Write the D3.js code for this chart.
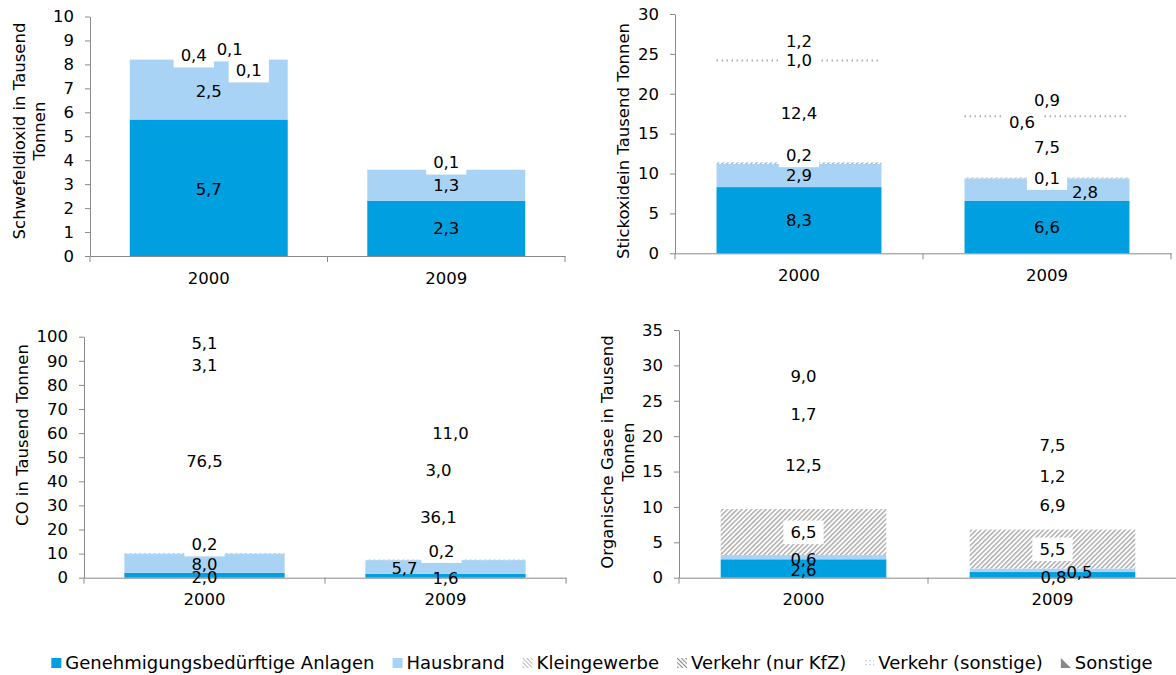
<!DOCTYPE html>
<html>
<head>
<meta charset="utf-8">
<script src="https://cdnjs.cloudflare.com/ajax/libs/d3/7.8.5/d3.min.js"></script>
<style>
    body { margin: 0; background: #fff; }
    svg text { font-family: "DejaVu Sans", Verdana, sans-serif; font-size: 16.5px; fill: #000; }
    svg .legend text { font-size: 18px; }
</style>
</head>
<body>
<svg id="chart" width="1176" height="675"></svg>
<script>
// categories and series
const years = ["2000", "2009"];
const seriesNames = ["Genehmigungsbedürftige Anlagen", "Hausbrand", "Kleingewerbe",
    "Verkehr (nur KfZ)", "Verkehr (sonstige)", "Sonstige"];

// values per year, in series order (Tausend Tonnen)
const so2Values = [[5.7, 2.5, 0.1, 0.4, 0.1, 0], [2.3, 1.3, 0.1, 0, 0, 0]];
const noxValues = [[8.3, 2.9, 0.2, 12.4, 1.0, 1.2], [6.6, 2.8, 0.1, 7.5, 0.6, 0.9]];
const coValues = [[2.0, 8.0, 0.2, 76.5, 3.1, 5.1], [1.6, 5.7, 0.2, 36.1, 3.0, 11.0]];
const vocValues = [[2.6, 0.6, 6.5, 12.5, 1.7, 9.0], [0.8, 0.5, 5.5, 6.9, 1.2, 7.5]];

// y tick labels
const so2Ticks = [0, 1, 2, 3, 4, 5, 6, 7, 8, 9, 10];
const noxTicks = [0, 5, 10, 15, 20, 25, 30];
const coTicks = [0, 10, 20, 30, 40, 50, 60, 70, 80, 90, 100];
const vocTicks = [0, 5, 10, 15, 20, 25, 30, 35];

const blue = "#009fe0";
const lightBlue = "#a9d3f5";
const axisGrey = "#8a8a8a";

let svg = d3.select("#chart");
let defs = svg.append("defs");

// diagonal hatch for Kleingewerbe
let hatch = defs.append("pattern")
    .attr("id", "hatch")
    .attr("patternUnits", "userSpaceOnUse")
    .attr("width", 3.4).attr("height", 10)
    .attr("patternTransform", "rotate(45)");
hatch.append("rect").attr("width", 3.4).attr("height", 10).attr("fill", "#fff");
hatch.append("line").attr("x1", 0.8).attr("y1", 0).attr("x2", 0.8).attr("y2", 10)
    .attr("stroke", "#9a9a9a").attr("stroke-width", 1.2);

// layout of the four panels
const panels = [
    {values: so2Values, ticks: so2Ticks, x0: 90, x1: 565, y0: 256, y1: 16.5,
        title: ["Schwefeldioxid in Tausend", "Tonnen"], tx: [19, 39], ty: 131, patterned: []},
    {values: noxValues, ticks: noxTicks, x0: 675, x1: 1171, y0: 253.3, y1: 14,
        title: ["Stickoxidein Tausend Tonnen"], tx: [623], ty: 141, patterned: [2, 4]},
    {values: coValues, ticks: coTicks, x0: 84, x1: 566, y0: 577.7, y1: 336.7,
        title: ["CO in Tausend Tonnen"], tx: [22], ty: 435, patterned: [2]},
    {values: vocValues, ticks: vocTicks, x0: 679, x1: 1177, y0: 577.7, y1: 330,
        title: ["Organische Gase in Tausend", "Tonnen"], tx: [607, 628], ty: 452, patterned: [2]}
];

// hand-moved data labels: "panel-year-series" -> [dx, dy]
const labelShift = {
    "0-0-0": [0, 1], "0-0-1": [0, 2], "0-0-2": [40, 12], "0-0-3": [-15, 3], "0-0-4": [21, 3],
    "0-1-2": [0, -6],
    "1-0-2": [0, -8], "1-0-4": [0, 1], "1-0-5": [0, -9],
    "1-1-1": [38, 3], "1-1-4": [-25, 7], "1-1-5": [0, -9],
    "2-0-0": [0, 2], "2-0-1": [0, 1], "2-0-2": [0, -9], "2-0-5": [0, -12],
    "2-1-0": [0, 2], "2-1-1": [-41, 1], "2-1-2": [-4, -9], "2-1-3": [-7, 1], "2-1-4": [-7, 1], "2-1-5": [5, -19],
    "3-0-0": [0, 2], "3-0-1": [0, 2],
    "3-1-0": [1, 2], "3-1-1": [27, 2]
};

let fmt = v => d3.format(".1f")(v).replace(".", ",");

function drawPanel(p, pi) {
    let g = svg.append("g");

    let x = d3.scaleBand()
        .domain(years)
        .range([p.x0, p.x1])
        .paddingInner(0.335)
        .paddingOuter(0.1675);
    let y = d3.scaleLinear()
        .domain([0, d3.max(p.ticks)])
        .range([p.y0, p.y1]);

    let rows = years.map(function (yr, j) {
        let o = {year: yr};
        seriesNames.forEach(function (s, k) { o[s] = p.values[j][k]; });
        return o;
    });
    let stacked = d3.stack().keys(seriesNames)(rows);

    // bars
    stacked.forEach(function (layer, k) {
        let fill = null;
        if (k === 0) fill = blue;
        else if (k === 1) fill = lightBlue;
        else if (k === 2 && p.patterned.includes(2)) fill = "url(#hatch)";
        if (fill) {
            g.selectAll(null)
                .data(layer)
                .enter()
                .append("rect")
                .attr("x", d => x(d.data.year))
                .attr("width", x.bandwidth())
                .attr("y", d => y(d[1]))
                .attr("height", d => y(d[0]) - y(d[1]))
                .attr("fill", fill);
        }
        // Verkehr (sonstige) only shows as a dotted row
        if (k === 4 && p.patterned.includes(4)) {
            g.selectAll(null)
                .data(layer)
                .enter()
                .append("line")
                .attr("x1", d => x(d.data.year))
                .attr("x2", d => x(d.data.year) + x.bandwidth())
                .attr("y1", d => y((d[0] + d[1]) / 2) + 1)
                .attr("y2", d => y((d[0] + d[1]) / 2) + 1)
                .attr("stroke", "#b0b0b0")
                .attr("stroke-width", 2)
                .attr("stroke-dasharray", "1.5 3.5");
        }
    });

    // y axis
    let yAxis = g.append("g")
        .attr("transform", "translate(" + p.x0 + ",0)")
        .call(d3.axisLeft(y).tickValues(p.ticks).tickSize(5).tickSizeOuter(0).tickPadding(11));
    yAxis.selectAll("path, line").attr("stroke", axisGrey);
    yAxis.selectAll("text").style("font-size", "16.5px").attr("fill", "#000");

    // x axis with ticks between categories
    let xAxis = g.append("g")
        .attr("transform", "translate(0," + p.y0 + ")")
        .call(d3.axisBottom(x).tickSize(0).tickSizeOuter(0).tickPadding(16));
    xAxis.select("path").attr("stroke", axisGrey);
    xAxis.selectAll("text").style("font-size", "16.5px").attr("fill", "#000");
    let gap = (x.step() - x.bandwidth()) / 2;
    let edges = [p.x0, x(years[1]) - gap, p.x1];
    g.selectAll(null)
        .data(edges)
        .enter()
        .append("line")
        .attr("x1", d => d).attr("x2", d => d)
        .attr("y1", p.y0).attr("y2", p.y0 + 6)
        .attr("stroke", axisGrey);

    // axis title
    p.title.forEach(function (line, i) {
        g.append("text")
            .attr("transform", "translate(" + p.tx[i] + "," + p.ty + ") rotate(-90)")
            .attr("text-anchor", "middle")
            .attr("dy", "0.35em")
            .text(line);
    });

    // data labels
    stacked.forEach(function (layer, k) {
        layer.forEach(function (d, j) {
            let v = p.values[j][k];
            if (!(v > 0)) return;
            let s = labelShift[pi + "-" + j + "-" + k] || [0, 0];
            let cx = x(d.data.year) + x.bandwidth() / 2 + s[0];
            let cy = y((d[0] + d[1]) / 2) + s[1];
            let box = g.append("rect").attr("fill", "#fff");
            let t = g.append("text")
                .attr("x", cx)
                .attr("y", cy)
                .attr("dy", "0.35em")
                .attr("text-anchor", "middle")
                .text(fmt(v));
            if (k >= 2) {
                let w = t.node().getComputedTextLength() + 14;
                box.attr("x", cx - w / 2).attr("y", cy - 11.5).attr("width", w).attr("height", 23.5);
            } else {
                box.remove();
            }
        });
    });
}

panels.forEach(drawPanel);

// legend patterns
let lp1 = defs.append("pattern").attr("id", "legLight").attr("patternUnits", "userSpaceOnUse")
    .attr("width", 3).attr("height", 3).attr("patternTransform", "rotate(-45)");
lp1.append("line").attr("x1", 0.5).attr("y1", 0).attr("x2", 0.5).attr("y2", 3)
    .attr("stroke", "#b8b8b8").attr("stroke-width", 1);
let lp2 = defs.append("pattern").attr("id", "legDark").attr("patternUnits", "userSpaceOnUse")
    .attr("width", 3).attr("height", 3).attr("patternTransform", "rotate(-45)");
lp2.append("line").attr("x1", 0.5).attr("y1", 0).attr("x2", 0.5).attr("y2", 3)
    .attr("stroke", "#8a8a8a").attr("stroke-width", 1.2);
let lp3 = defs.append("pattern").attr("id", "legDots").attr("patternUnits", "userSpaceOnUse")
    .attr("width", 4).attr("height", 4);
lp3.append("rect").attr("x", 1).attr("y", 1).attr("width", 1.2).attr("height", 1.2).attr("fill", "#b5b5b5");

const legendFills = [blue, lightBlue, "url(#legLight)", "url(#legDark)", "url(#legDots)", "#8a8a8a"];

let legend = svg.append("g").attr("class", "legend");
let lx = 0;
seriesNames.forEach(function (name, k) {
    let item = legend.append("g").attr("transform", "translate(" + lx + ",0)");
    if (k === 5) {
        item.append("path").attr("d", "M0,-5L0,5L10,5Z").attr("fill", legendFills[k]);
    } else {
        item.append("rect").attr("x", 0).attr("y", -5).attr("width", 10).attr("height", 10)
            .attr("fill", legendFills[k]);
    }
    let t = item.append("text").attr("x", 14).attr("dy", "0.35em").text(name);
    lx += 14 + t.node().getComputedTextLength() + 18;
});
let legendWidth = lx - 18;
legend.attr("transform", "translate(" + (602 - legendWidth / 2) + ",663)");
</script>
</body>
</html>
